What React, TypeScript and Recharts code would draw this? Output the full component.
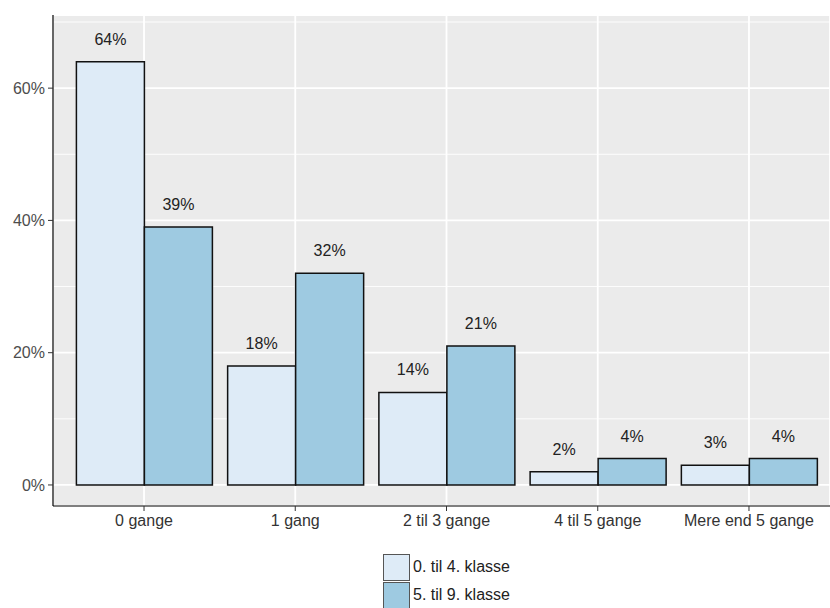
import React from 'react';
import { BarChart, Bar, XAxis, YAxis, CartesianGrid, LabelList, Legend } from 'recharts';

const categories = ['0 gange', '1 gang', '2 til 3 gange', '4 til 5 gange', 'Mere end 5 gange'];
const grade0to4 = [64, 18, 14, 2, 3];
const grade5to9 = [39, 32, 21, 4, 4];
const seriesNames = ['0. til 4. klasse', '5. til 9. klasse'];
const seriesColors = ['#DEEBF7', '#9ECAE1'];
const yTicks = [0, 20, 40, 60];
const yMinorTicks = [10, 30, 50, 70];
const yDomain: [number, number] = [-3.18, 71.06];

const data = categories.map((cat, i) => ({ cat, a: grade0to4[i], b: grade5to9[i] }));

const FONT = '"Liberation Sans", Arial, sans-serif';

const LegendContent = () => (
  <div style={{ fontFamily: FONT }}>
    {seriesNames.map((name, i) => (
      <div key={name} style={{ display: 'flex', alignItems: 'center', height: 28 }}>
        <div
          style={{
            width: 27,
            height: 27,
            boxSizing: 'border-box',
            border: '1px solid #555',
            background: seriesColors[i],
          }}
        />
        <span style={{ marginLeft: 3, fontSize: 16, color: '#222' }}>{name}</span>
      </div>
    ))}
  </div>
);

export default function App() {
  return (
    <div style={{ position: 'absolute', left: 0, top: 0, width: 830, height: 608, background: '#fff', overflow: 'hidden' }}>
      <BarChart
        width={830}
        height={608}
        data={data}
        margin={{ top: 15, right: 0, bottom: 16, left: 0 }}
        barGap={0}
        style={{ fontFamily: FONT }}
      >
        <CartesianGrid
          yAxisId="minor"
          fill="#EBEBEB"
          stroke="#FFFFFF"
          strokeWidth={0.9}
          vertical={false}
        />
        <CartesianGrid stroke="#FFFFFF" strokeWidth={1.8} />
        <XAxis
          dataKey="cat"
          type="category"
          height={30}
          padding={{ left: 15.4, right: 5.4 }}
          axisLine={{ stroke: '#000', strokeWidth: 1.2 }}
          tickLine={{ stroke: '#333', strokeWidth: 1 }}
          tickSize={5}
          tickMargin={4}
          tick={{ fill: '#333', fontSize: 16, fontFamily: FONT }}
          interval={0}
        />
        <YAxis
          yAxisId="minor"
          type="number"
          hide
          domain={yDomain}
          allowDataOverflow
          ticks={yMinorTicks}
        />
        <YAxis
          type="number"
          width={53}
          domain={yDomain}
          allowDataOverflow
          ticks={yTicks}
          tickFormatter={(v: number) => `${v}%`}
          axisLine={{ stroke: '#000', strokeWidth: 1.2 }}
          tickLine={{ stroke: '#333', strokeWidth: 1 }}
          tickSize={5}
          tickMargin={3}
          tick={{ fill: '#4D4D4D', fontSize: 16, fontFamily: FONT }}
        />
        <Bar dataKey="a" name={seriesNames[0]} fill={seriesColors[0]} stroke="#111" strokeWidth={1.5} barSize={68} isAnimationActive={false}>
          <LabelList dataKey="a" position="top" offset={17} formatter={(v: any) => `${v}%`} style={{ fill: '#222', fontSize: 16, fontFamily: FONT }} />
        </Bar>
        <Bar dataKey="b" name={seriesNames[1]} fill={seriesColors[1]} stroke="#111" strokeWidth={1.5} barSize={68} isAnimationActive={false}>
          <LabelList dataKey="b" position="top" offset={17} formatter={(v: any) => `${v}%`} style={{ fill: '#222', fontSize: 16, fontFamily: FONT }} />
        </Bar>
        <Legend
          layout="vertical"
          verticalAlign="bottom"
          align="center"
          wrapperStyle={{ left: 383, top: 553, bottom: 'auto', width: 'auto' }}
          content={() => <LegendContent />}
        />
      </BarChart>
    </div>
  );
}
